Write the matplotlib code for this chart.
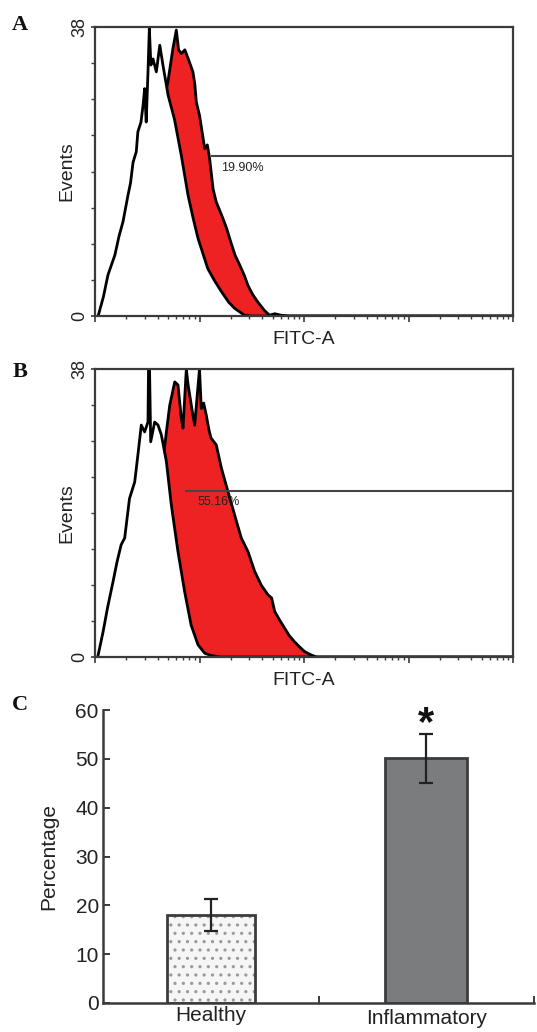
import numpy as np
import matplotlib
matplotlib.use("Agg")
import matplotlib.pyplot as plt
from matplotlib.ticker import MultipleLocator, FixedLocator, NullFormatter
from matplotlib.transforms import ScaledTranslation

plt.rcParams['font.family'] = ['Liberation Sans', 'DejaVu Sans']
plt.rcParams['hatch.linewidth'] = 1.1

# ---------------- data ----------------
# Panel A histograms (x = log10 FITC-A intensity, y = events)
a_unstained_logx = [1.03, 1.08, 1.124, 1.19, 1.23, 1.268, 1.316, 1.34, 1.364, 1.395, 1.41, 1.44, 1.46,
                    1.475, 1.49, 1.507, 1.52, 1.535, 1.555, 1.587, 1.62, 1.65, 1.70, 1.76, 1.826, 1.89,
                    1.94, 1.986, 2.08, 2.15, 2.21, 2.28, 2.337, 2.43, 2.5, 5.0]
a_unstained_events = [0, 2.5, 5.4, 8.0, 10.5, 12.4, 15.9, 17.5, 20.2, 21.6, 24.2, 25.5, 27.7,
                      29.9, 25.5, 32.1, 37.8, 33.0, 33.8, 32.1, 35.6, 33.0, 29.0, 25.9, 21.1, 15.9,
                      12.8, 10.2, 6.2, 4.5, 3.2, 1.8, 1.0, 0.1, 0, 0]
a_stained_logx = [1.03, 1.15, 1.3, 1.42, 1.52, 1.6, 1.66, 1.70, 1.746, 1.778, 1.80, 1.826, 1.86, 1.89,
                  1.937, 1.955, 1.97, 2.0, 2.05, 2.075, 2.097, 2.13, 2.16, 2.225, 2.26, 2.30, 2.34,
                  2.385, 2.43, 2.464, 2.51, 2.56, 2.62, 2.67, 2.72, 2.78, 2.85, 5.0]
a_stained_events = [0, 1.5, 5, 10, 16, 23, 28, 31, 35.2, 37.6, 35.0, 34.5, 35.0, 33.9,
                    32.1, 30.5, 28.1, 26.4, 22.0, 22.5, 20.7, 16.7, 15.0, 12.8, 11.5, 9.7, 8.0,
                    6.7, 5.3, 4.0, 2.8, 1.8, 0.75, 0.1, 0.3, 0.1, 0, 0]

# Panel B histograms
b_unstained_logx = [1.03, 1.077, 1.12, 1.172, 1.21, 1.25, 1.284, 1.33, 1.38, 1.41, 1.443, 1.475, 1.507,
                    1.512, 1.522, 1.533, 1.571, 1.603, 1.635, 1.683, 1.73, 1.794, 1.858, 1.92, 1.986,
                    2.05, 2.11, 2.2, 5.0]
b_unstained_events = [0.26, 3.3, 6.5, 9.9, 12.5, 14.8, 15.7, 20.9, 23.1, 26.6, 30.6, 29.7, 31.0,
                      38.0, 38.0, 28.4, 31.0, 30.6, 29.3, 25.8, 20.1, 13.9, 8.6, 4.2, 1.6,
                      0.5, 0.2, 0, 0]
b_stained_logx = [1.03, 1.2, 1.35, 1.45, 1.55, 1.62, 1.66, 1.683, 1.715, 1.763, 1.794, 1.826, 1.842,
                  1.874, 1.89, 1.906, 1.93, 1.954, 1.975, 2.0, 2.017, 2.04, 2.065, 2.09, 2.11, 2.16,
                  2.21, 2.273, 2.337, 2.40, 2.464, 2.528, 2.59, 2.655, 2.69, 2.72, 2.77, 2.815, 2.86,
                  2.91, 2.96, 3.007, 3.07, 3.12, 5.0]
b_stained_events = [0, 1.5, 6, 12, 19, 24, 27, 29.7, 33.2, 36.3, 35.9, 31.5, 30.2,
                    38.0, 36.0, 34.6, 32.5, 30.6, 34.0, 38.0, 32.8, 33.5, 31.9, 30.0, 28.9, 28.0,
                    24.9, 21.8, 18.7, 15.7, 13.9, 11.3, 9.5, 8.2, 7.8, 6.0, 4.8, 3.8, 2.8,
                    2.0, 1.3, 0.7, 0.26, 0, 0]

# Marker gates (start log10 x, level) and percentages
gate_labels = ["19.90%", "55.16%"]
gate_start_logx = [2.113, 1.858]
gate_level = [21.0, 21.9]

# Panel C bar chart
categories = ["Healthy", "Inflammatory"]
percent_mean = [18.0, 50.1]
percent_err = [3.2, 5.0]

# ---------------- figure ----------------
W, H = 537, 1032
fig = plt.figure(figsize=(W / 100, H / 100), dpi=100)


def px_rect(l, t, r, b):
    return [l / W, 1 - b / H, (r - l) / W, (b - t) / H]


FRAME = '#3a3a3a'


def flow_panel(rect, un_x, un_y, st_x, st_y, glabel, gx, gy, text_dx):
    ax = fig.add_axes(rect)
    ux = 10 ** np.array(un_x)
    sx = 10 ** np.array(st_x)
    ax.fill_between(sx, st_y, 0, color='#ee2222', lw=0, zorder=2)
    ax.plot(sx, st_y, color='black', lw=2.0, zorder=3)
    ax.fill_between(ux, un_y, 0, color='white', lw=0, zorder=4)
    ax.plot(ux, un_y, color='black', lw=2.0, zorder=5)
    ax.plot([10 ** gx, 10 ** 5], [gy, gy], color='#444444', lw=1.5, zorder=6, solid_capstyle='butt')
    ax.text(10 ** (gx + text_dx), gy - 1.5, glabel, fontsize=9, ha='left', va='center',
            color='#222222', zorder=7)
    ax.set_xscale('log')
    ax.set_xlim(10, 1e5)
    ax.set_ylim(0, 38)
    ax.xaxis.set_major_formatter(NullFormatter())
    ax.xaxis.set_minor_formatter(NullFormatter())
    ax.tick_params(axis='x', which='major', direction='out', length=4, width=1.2, color=FRAME)
    ax.tick_params(axis='x', which='minor', direction='out', length=2.5, width=1.0, color=FRAME)
    ax.set_yticks([0, 38])
    ax.set_yticklabels(['0', '38'], rotation=90, va='center', fontsize=13, color='#222222')
    ax.yaxis.set_minor_locator(MultipleLocator(38 / 8))
    ax.tick_params(axis='y', which='major', direction='out', length=3, width=1.2, color=FRAME, pad=2)
    ax.tick_params(axis='y', which='minor', direction='out', length=3, width=1.0, color=FRAME)
    for s in ax.spines.values():
        s.set_color(FRAME)
        s.set_linewidth(1.6)
        s.set_zorder(8)
    ax.set_ylabel('Events', fontsize=14, color='#222222')
    ax.yaxis.set_label_coords(-0.067, 0.5)
    ax.set_xlabel('FITC-A', fontsize=14, color='#222222')
    ax.xaxis.set_label_coords(0.5, -0.083)
    ax.xaxis.label.set_va('center')
    ax.yaxis.label.set_va('center')
    return ax


flow_panel(px_rect(95, 27, 513, 316), a_unstained_logx, a_unstained_events,
           a_stained_logx, a_stained_events, gate_labels[0], gate_start_logx[0], gate_level[0], 0.09)
flow_panel(px_rect(95, 369, 513, 657), b_unstained_logx, b_unstained_events,
           b_stained_logx, b_stained_events, gate_labels[1], gate_start_logx[1], gate_level[1], 0.12)

# Panel C
axc = fig.add_axes(px_rect(103, 710, 534, 1003))
xpos = np.arange(len(categories))
# dotted fill for Healthy, then outline
axc.bar(xpos[0], percent_mean[0], width=0.41, facecolor='#f6f6f6', edgecolor='#9a9a9a',
        lw=0, hatch='..', zorder=2)
axc.bar(xpos[0], percent_mean[0], width=0.41, facecolor='none', edgecolor='#3c3c3c',
        lw=2.0, zorder=2.5)
axc.bar(xpos[1], percent_mean[1], width=0.38, facecolor='#7b7c7e', edgecolor='#3c3c3c',
        lw=2.0, zorder=2)
axc.errorbar(xpos, percent_mean, yerr=percent_err, fmt='none', ecolor='#222222',
             elinewidth=1.6, capsize=5, capthick=1.6, zorder=3)
axc.text(xpos[1], 57.2, '*', ha='center', va='center', fontsize=30, fontweight='bold',
         color='#111111')
axc.set_xlim(-0.5, 1.5)
axc.set_ylim(0, 60)
axc.set_yticks(np.arange(0, 61, 10))
axc.tick_params(axis='y', direction='in', length=5, width=1.4, color=FRAME, labelsize=15, pad=3,
                labelcolor='#222222')
axc.set_xticks(xpos)
axc.set_xticklabels(categories, fontsize=15, color='#222222')
axc.tick_params(axis='x', which='major', length=0, pad=2.5)
axc.xaxis.set_minor_locator(FixedLocator([0.5, 1.5]))
axc.tick_params(axis='x', which='minor', direction='in', length=5, width=1.4, color=FRAME)
labs = axc.get_xticklabels()
labs[1].set_transform(labs[1].get_transform() + ScaledTranslation(0, -2 / 72, fig.dpi_scale_trans))
for side in ['top', 'right']:
    axc.spines[side].set_visible(False)
for side in ['left', 'bottom']:
    axc.spines[side].set_color(FRAME)
    axc.spines[side].set_linewidth(1.8)
axc.set_ylabel('Percentage', fontsize=15, color='#222222')
axc.yaxis.set_label_coords(-0.125, 0.5)
axc.yaxis.label.set_va('center')

# Panel letters
for lab, y in [('A', 25), ('B', 372), ('C', 705)]:
    fig.text(20 / W, 1 - y / H, lab, family='Liberation Serif', fontweight='bold', fontsize=16,
             ha='center', va='center', color='#111111')

fig.savefig('out.png', dpi=100)
